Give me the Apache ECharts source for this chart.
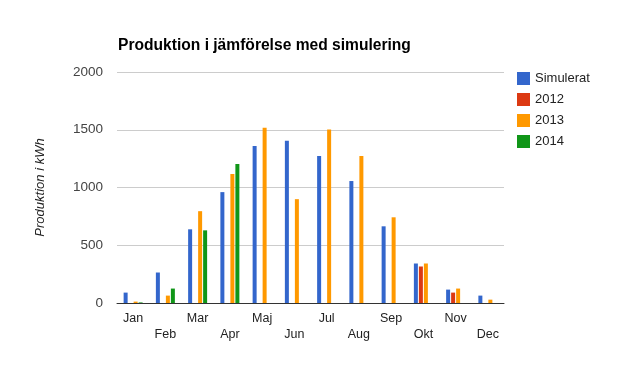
<!DOCTYPE html>
<html>
<head>
    <meta charset="utf-8">
    <title>Produktion</title>
    <script type="text/javascript" src="https://cdn.jsdelivr.net/npm/echarts@6/dist/echarts.min.js"></script>
    <style>
        body { margin: 0; background: #fff; }
    </style>
</head>
<body>
    <div id="main" style="width: 620px;height:375px;"></div>

    <script type="text/javascript">
        // data
        var months = ['Jan', 'Feb', 'Mar', 'Apr', 'Maj', 'Jun', 'Jul', 'Aug', 'Sep', 'Okt', 'Nov', 'Dec'];
        var simulerat = [90, 264, 638, 960, 1360, 1404, 1273, 1056, 664, 342, 116, 64];
        var y2012 = [null, null, null, null, null, null, null, null, null, 316, 90, null];
        var y2013 = [12, 64, 795, 1116, 1517, 899, 1502, 1273, 742, 342, 125, 29];
        var y2014 = [5, 125, 629, 1203, null, null, null, null, null, null, null, null];
        var yTicks = [0, 500, 1000, 1500, 2000];

        var myChart = echarts.init(document.getElementById('main'));

        function bar(name, data, color) {
            return {
                name: name,
                type: 'bar',
                data: data,
                barWidth: 4,
                barGap: '25%',
                itemStyle: { color: color },
                emphasis: { disabled: true }
            };
        }

        myChart.setOption({
            animation: false,
            textStyle: { fontFamily: 'Liberation Sans, Arial, sans-serif' },
            title: {
                text: 'Produktion i jämförelse med simulering',
                left: 118,
                top: 38,
                padding: 0,
                textStyle: { fontSize: 15.6, fontWeight: 'bold', color: '#000' }
            },
            legend: {
                orient: 'vertical',
                left: 517,
                top: 72,
                padding: 0,
                itemWidth: 13,
                itemHeight: 13,
                itemGap: 8,
                icon: 'rect',
                textStyle: { fontSize: 13, color: '#222' },
                data: ['Simulerat', '2012', '2013', '2014']
            },
            grid: { left: 117, right: 116, top: 72, bottom: 72 },
            xAxis: {
                type: 'category',
                data: months,
                axisTick: { show: false },
                axisLine: { lineStyle: { color: '#333' } },
                axisLabel: {
                    color: '#222',
                    fontSize: 12.5,
                    interval: 0,
                    margin: 8,
                    lineHeight: 16,
                    formatter: function (v, i) { return i % 2 ? '\n' + v : v; }
                }
            },
            yAxis: {
                type: 'value',
                min: yTicks[0],
                max: yTicks[yTicks.length - 1],
                interval: 500,
                name: 'Produktion i kWh',
                nameLocation: 'middle',
                nameGap: 70,
                nameTextStyle: { fontStyle: 'italic', fontSize: 13, color: '#222' },
                axisLabel: {
                    color: '#444',
                    fontSize: 13.5,
                    margin: 14,
                    formatter: function (v) { return String(v); }
                },
                splitLine: { lineStyle: { color: '#ccc' } }
            },
            series: [
                bar('Simulerat', simulerat, '#3366cc'),
                bar('2012', y2012, '#dc3912'),
                bar('2013', y2013, '#ff9900'),
                bar('2014', y2014, '#109618')
            ]
        });
    </script>
</body>
</html>
